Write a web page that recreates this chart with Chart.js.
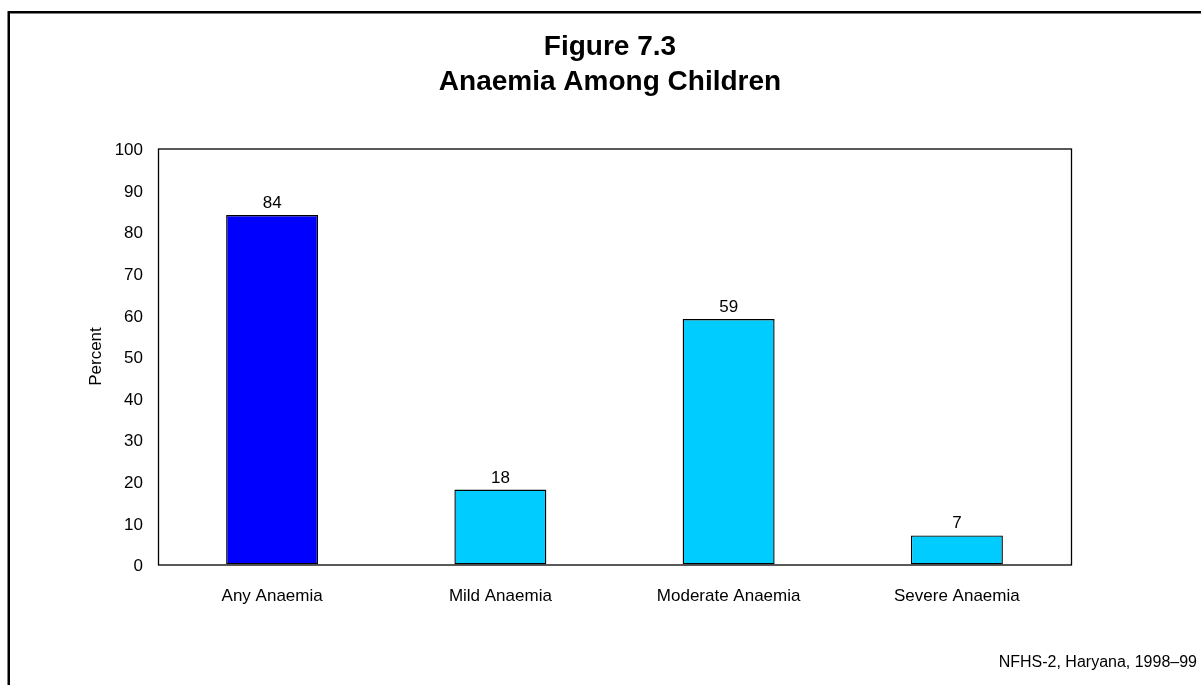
<!DOCTYPE html>
<html>
<head>
<meta charset="utf-8">
<script src="https://cdn.jsdelivr.net/npm/chart.js@4.4.1/dist/chart.umd.min.js"></script>
<style>
  html, body { margin: 0; padding: 0; background: #ffffff; }
  #wrap { width: 1201px; height: 685px; position: relative; }
</style>
</head>
<body>
<div id="wrap"><canvas id="c" width="1201" height="685"></canvas></div>
<script>
// Anaemia among children, NFHS-2 Haryana 1998–99
const categories = ['Any Anaemia', 'Mild Anaemia', 'Moderate Anaemia', 'Severe Anaemia'];
const percentValues = [84, 18, 59, 7];
const barColors = ['#0000FF', '#00CCFF', '#00CCFF', '#00CCFF'];
const titleLines = ['Figure 7.3', 'Anaemia Among Children'];
const yAxisTitle = 'Percent';
const sourceNote = 'NFHS-2, Haryana, 1998\u201399';

const FONT = '"Liberation Sans", Arial, Helvetica, sans-serif';

// Outer figure frame, plot frame, titles, value labels and source note
const decorations = {
  id: 'decorations',
  beforeDraw(chart) {
    const ctx = chart.ctx;
    ctx.save();
    ctx.fillStyle = '#ffffff';
    ctx.fillRect(0, 0, chart.width, chart.height);
    ctx.strokeStyle = '#000000';
    ctx.lineWidth = 2.5;
    ctx.beginPath();
    ctx.moveTo(8.75, chart.height + 5);
    ctx.lineTo(8.75, 12.25);
    ctx.lineTo(chart.width + 5, 12.25);
    ctx.stroke();
    ctx.restore();
  },
  afterDatasetsDraw(chart) {
    const ctx = chart.ctx;
    const a = chart.chartArea;
    ctx.save();
    // plot frame
    ctx.strokeStyle = '#000000';
    ctx.lineWidth = 1.3;
    ctx.strokeRect(a.left + 0.5, a.top + 0.5, a.right - a.left, a.bottom - a.top);

    // title
    ctx.fillStyle = '#000000';
    ctx.textAlign = 'center';
    ctx.textBaseline = 'alphabetic';
    ctx.font = 'bold 28px ' + FONT;
    const cx = 610;
    ctx.fillText(titleLines[0], cx, 55);
    ctx.fillText(titleLines[1], cx, 89.5);

    // value labels above bars
    ctx.font = '17px ' + FONT;
    const meta = chart.getDatasetMeta(0);
    meta.data.forEach((bar, i) => {
      ctx.fillText(String(percentValues[i]), bar.x, bar.y - 7);
    });

    // source note
    ctx.textAlign = 'right';
    ctx.font = '16px ' + FONT;
    ctx.fillText(sourceNote, 1197, 667);
    ctx.restore();
  }
};

new Chart(document.getElementById('c'), {
  type: 'bar',
  data: {
    labels: categories,
    datasets: [{
      data: percentValues,
      backgroundColor: barColors,
      borderColor: '#000000',
      borderWidth: 1.4,
      borderSkipped: false,
      categoryPercentage: 1.0,
      barPercentage: 0.403
    }]
  },
  options: {
    responsive: false,
    animation: false,
    devicePixelRatio: 1,
    layout: { padding: { top: 148.5, right: 130, bottom: 0, left: 0 } },
    plugins: {
      legend: { display: false },
      tooltip: { enabled: false },
      title: { display: false }
    },
    scales: {
      x: {
        grid: { display: false, drawTicks: false },
        border: { display: false },
        ticks: { color: '#000000', font: { family: FONT, size: 17 }, padding: 22, maxRotation: 0 },
        afterFit(scale) { scale.height = 120.5; }
      },
      y: {
        min: 0,
        max: 100,
        grid: { display: false, drawTicks: false },
        border: { display: false },
        ticks: { stepSize: 10, color: '#000000', font: { family: FONT, size: 17 }, padding: 15, labelOffset: 2 },
        title: {
          display: true,
          text: yAxisTitle,
          color: '#000000',
          font: { family: FONT, size: 17 },
          padding: { top: 86, bottom: 0 }
        },
        afterFit(scale) { scale.width = 158; }
      }
    }
  },
  plugins: [decorations]
});
</script>
</body>
</html>
